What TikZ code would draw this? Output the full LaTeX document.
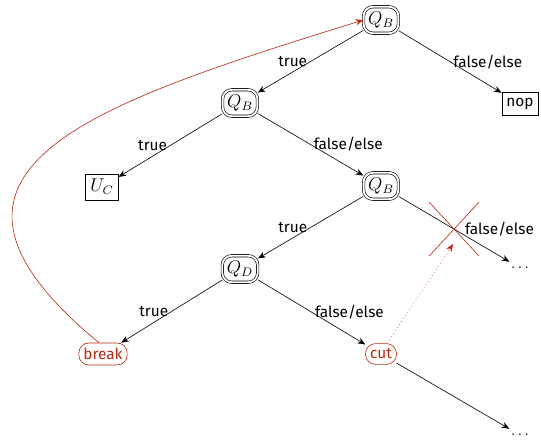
\documentclass[tikz,border=0pt]{standalone}
\usepackage{fontspec}
\setmainfont{Fira Sans}
\usetikzlibrary{arrows.meta}
\definecolor{cutred}{RGB}{178,42,18}
\begin{document}
\begin{tikzpicture}[x=0.65pt,y=-0.65pt,>={Stealth[length=5pt,width=4pt]},
    test/.style={draw,double,double distance=1.2pt,rounded corners=6pt,inner xsep=3pt,
      minimum height=17pt,font=\large},
    leaf/.style={draw,inner xsep=3pt,minimum height=15pt},
    action/.style={draw=cutred,text=cutred,rounded corners=6.5pt,inner xsep=3pt,minimum height=13.5pt},
    lbl/.style={midway,inner sep=2pt}]
  \useasboundingbox (0,0) rectangle (541,439);
  \node[test] (qb1) at (381,20) {$Q_B$};
  \node[leaf] (nop) at (520,104) {nop};
  \node[test] (qb2) at (240,103) {$Q_B$};
  \node[leaf,font=\large] (uc) at (102,187) {$U_C$};
  \node[test] (qb3) at (381,186) {$Q_B$};
  \node[test] (qd) at (240,269) {$Q_D$};
  \node (dots1) at (520,268) {$\dots$};
  \node[action] (brk) at (103,354) {break};
  \node[action] (cut) at (381,354) {cut};
  \node (dots2) at (520,435) {$\dots$};
  % tree
  \draw[->] (qb1) -- (qb2) node[lbl,left] {true};
  \draw[->] (qb1) -- (nop) node[lbl,right] {false/else};
  \draw[->] (qb2) -- (uc) node[lbl,left] {true};
  \draw[->] (qb2) -- (qb3) node[lbl,right] {false/else};
  \draw[->] (qb3) -- (qd) node[lbl,left] {true};
  \draw[->] (qb3) -- (dots1) coordinate[pos=0.5] (x) node[lbl,right,xshift=5pt] {false/else};
  \draw[->] (qd) -- (brk) node[lbl,left] {true};
  \draw[->] (qd) -- (cut) node[lbl,right] {false/else};
  \draw[->] (cut) -- (dots2);
  % break jumps back, cut removes the branch
  \draw[cutred,->] (brk.110) .. controls (-110,170) and (90,105) .. (qb1.west);
  \draw[cutred] ([shift={(-25,-27)}]x) -- ([shift={(25,27)}]x);
  \draw[cutred] ([shift={(-25,27)}]x) -- ([shift={(25,-27)}]x);
  \draw[cutred,dotted,->] (cut.60) -- ([shift={(-1,15)}]x);
\end{tikzpicture}
\end{document}
